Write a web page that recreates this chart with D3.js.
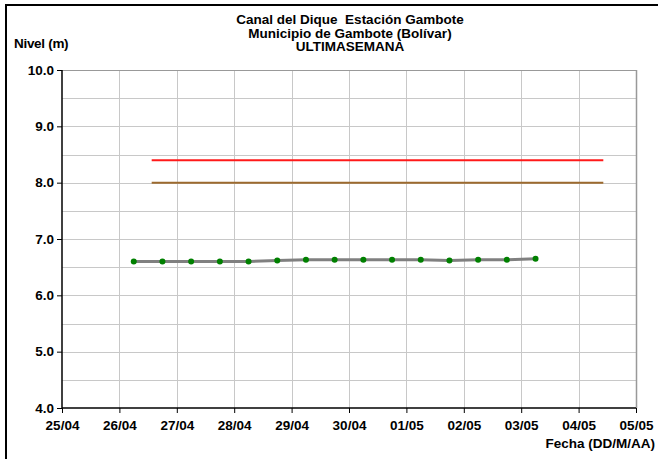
<!DOCTYPE html>
<html>
<head>
<meta charset="utf-8">
<script src="https://cdn.jsdelivr.net/npm/d3@7"></script>
<style>
body { margin: 0; background: #fff; }
text { font-family: "Liberation Sans", Arial, sans-serif; font-weight: bold; }
</style>
</head>
<body>
<div id="chart"></div>
<script>
// observed levels, every 12 hours
var fechas = ["2026-04-26T06:00", "2026-04-26T18:00", "2026-04-27T06:00", "2026-04-27T18:00",
    "2026-04-28T06:00", "2026-04-28T18:00", "2026-04-29T06:00", "2026-04-29T18:00",
    "2026-04-30T06:00", "2026-04-30T18:00", "2026-05-01T06:00", "2026-05-01T18:00",
    "2026-05-02T06:00", "2026-05-02T18:00", "2026-05-03T06:00"];
var niveles = [6.60, 6.60, 6.60, 6.60, 6.60, 6.62, 6.63, 6.63, 6.63, 6.63, 6.63, 6.62, 6.63, 6.63, 6.65];

// reference levels
var umbral_fechas = ["2026-04-26T13:30", "2026-05-04T10:20"];
var umbral_rojo = [8.4, 8.4];
var umbral_cafe = [8.0, 8.0];

var y_ticks = [4, 5, 6, 7, 8, 9, 10];
var titulo = ["Canal del Dique\u00a0\u00a0Estación Gambote", "Municipio de Gambote (Bolívar)", "ULTIMASEMANA"];

var width = 658, height = 459;
var parse = d3.timeParse("%Y-%m-%dT%H:%M");

var svg = d3.select("#chart").append("svg")
    .attr("width", width)
    .attr("height", height);

// outer frame
svg.append("rect")
    .attr("x", 6).attr("y", 5)
    .attr("width", 700).attr("height", 500)
    .attr("fill", "none")
    .attr("stroke", "#000")
    .attr("stroke-width", 2);

var x_scale = d3.scaleTime()
    .domain([parse("2026-04-25T00:00"), parse("2026-05-05T00:00")])
    .range([62, 636]);

var y_scale = d3.scaleLinear()
    .domain([4, 10])
    .range([408, 70]);

// grid
var days = d3.timeDay.range(x_scale.domain()[0], d3.timeDay.offset(x_scale.domain()[1], 1));
svg.append("g").selectAll("line")
    .data(days.slice(1, -1))
    .enter().append("line")
    .attr("x1", function(d) { return Math.round(x_scale(d)) + 0.5; })
    .attr("x2", function(d) { return Math.round(x_scale(d)) + 0.5; })
    .attr("y1", 70).attr("y2", 408)
    .attr("stroke", "#c8c8c8");

svg.append("g").selectAll("line")
    .data(d3.range(4.5, 10.01, 0.5))
    .enter().append("line")
    .attr("x1", 62).attr("x2", 636)
    .attr("y1", function(d) { return Math.round(y_scale(d)) + 0.5; })
    .attr("y2", function(d) { return Math.round(y_scale(d)) + 0.5; })
    .attr("stroke", "#c8c8c8");

// plot border right/top
svg.append("line").attr("x1", 636.5).attr("x2", 636.5).attr("y1", 70).attr("y2", 408)
    .attr("stroke", "#999").attr("stroke-width", 1.5);
svg.append("line").attr("x1", 62).attr("x2", 636).attr("y1", 70.5).attr("y2", 70.5)
    .attr("stroke", "#999");

// axes
var x_axis = d3.axisBottom(x_scale)
    .tickValues(days.slice(0, 11))
    .tickFormat(d3.timeFormat("%d/%m"))
    .tickSize(5);

var y_axis = d3.axisLeft(y_scale)
    .tickValues(y_ticks)
    .tickFormat(d3.format(".1f"))
    .tickSize(5);

var gx = svg.append("g")
    .attr("transform", "translate(0,408)")
    .call(x_axis);
gx.select(".domain").attr("stroke-width", 1.5).attr("d", "M62,0H636");
gx.selectAll("text").attr("font-size", 13.5).attr("dy", 0).attr("y", 22).attr("fill", "#000");

var gy = svg.append("g")
    .attr("transform", "translate(62,0)")
    .call(y_axis);
gy.select(".domain").attr("stroke-width", 1.5).attr("d", "M0,408V70");
gy.selectAll("text").attr("font-size", 13.5).attr("x", -8).attr("fill", "#000");

// reference lines
var ref_line = d3.line()
    .x(function(d) { return x_scale(d[0]); })
    .y(function(d) { return y_scale(d[1]); });

svg.append("path")
    .attr("d", ref_line(umbral_fechas.map(function(f, i) { return [parse(f), umbral_cafe[i]]; })))
    .attr("stroke", "#9c6a2e").attr("stroke-width", 2).attr("fill", "none");

svg.append("path")
    .attr("d", ref_line(umbral_fechas.map(function(f, i) { return [parse(f), umbral_rojo[i]]; })))
    .attr("stroke", "#ff1a1a").attr("stroke-width", 2).attr("fill", "none");

// level series
var serie = fechas.map(function(f, i) { return [parse(f), niveles[i]]; });

svg.append("path")
    .attr("d", ref_line(serie))
    .attr("stroke", "#808080").attr("stroke-width", 3).attr("fill", "none");

svg.append("g").selectAll("circle")
    .data(serie)
    .enter().append("circle")
    .attr("cx", function(d) { return x_scale(d[0]); })
    .attr("cy", function(d) { return y_scale(d[1]); })
    .attr("r", 3)
    .attr("fill", "#008000");

// titles
svg.append("g").selectAll("text")
    .data(titulo)
    .enter().append("text")
    .text(function(d) { return d; })
    .attr("x", 350)
    .attr("y", function(d, i) { return 24 + i * 13.5; })
    .attr("font-size", 13.5)
    .attr("text-anchor", "middle");

svg.append("text")
    .text("Nivel (m)")
    .attr("x", 14).attr("y", 48)
    .attr("font-size", 13.5)
    .attr("letter-spacing", -0.3);

svg.append("text")
    .text("Fecha (DD/M/AA)")
    .attr("x", 655).attr("y", 448)
    .attr("font-size", 13.5)
    .attr("text-anchor", "end");
</script>
</body>
</html>
